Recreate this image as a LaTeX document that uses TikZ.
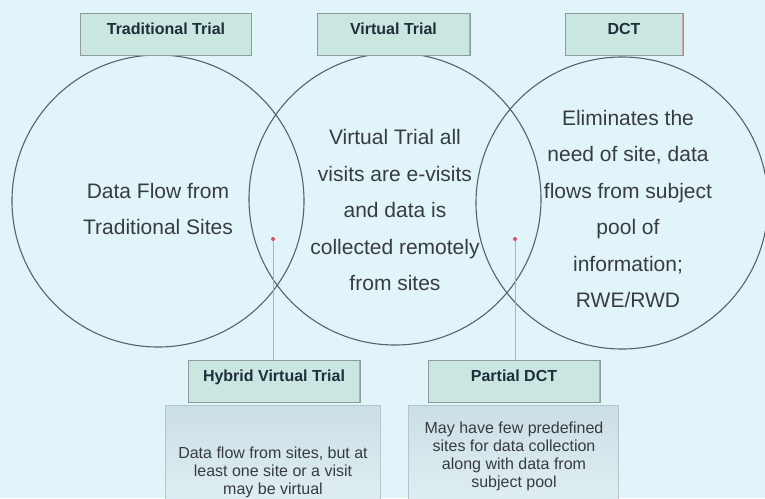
\documentclass[tikz,border=0pt]{standalone}
\usepackage{fontspec}
\setmainfont{Liberation Sans}
\definecolor{bgcyan}{HTML}{E1F4F9}
\definecolor{ringgray}{HTML}{55646A}
\definecolor{inkgray}{HTML}{383C3E}
\definecolor{tagmint}{HTML}{C9E6E1}
\definecolor{taggray}{HTML}{8E9B9B}
\definecolor{tagedge}{HTML}{C9A2A6}
\definecolor{tagink}{HTML}{1E2E3A}
\definecolor{notetop}{HTML}{CBDFE6}
\definecolor{notebot}{HTML}{E2F0F4}
\definecolor{notegray}{HTML}{B4C6CB}
\definecolor{dotred}{HTML}{D25470}
\definecolor{leadgray}{HTML}{B8AEB0}
\tikzset{
  venn/.style={circle, draw=ringgray, line width=1.1pt, minimum size=292pt, inner sep=0pt},
  bigtext/.style={align=center, text=inkgray, font=\fontsize{21}{36.5}\selectfont},
  tag/.style={draw=taggray, fill=tagmint, line width=0.9pt, inner xsep=0pt, inner ysep=5pt,
    text height=16pt, text depth=16pt, text=tagink, font=\fontsize{16}{18}\selectfont\bfseries,
    path picture={\draw[tagedge, line width=1.4pt] (path picture bounding box.north east) -- (path picture bounding box.south east);}},
  note/.style={draw=notegray, top color=notetop, bottom color=notebot, inner sep=0pt, minimum height=110pt},
  notetext/.style={align=center, text=inkgray, font=\fontsize{16}{18}\selectfont},
  reddot/.style={circle, fill=dotred, inner sep=0pt, minimum size=4pt},
  lead/.style={draw=leadgray, line width=0.7pt}
}
\begin{document}
\begin{tikzpicture}[x=1pt, y=-1pt]
  \useasboundingbox (0,0) rectangle (765,498);
  \clip (0,0) rectangle (765,498);
  \fill[bgcyan] (0,0) rectangle (765,498);

  % the three trial types
  \node[venn] (tradring) at (158,201) {};
  \node[venn] (virtring) at (395,199) {};
  \node[venn] (dctring) at (622,203) {};

  \node[bigtext] (tradtxt) at (158,209) {Data Flow from\\Traditional Sites};
  \node[bigtext] (virttxt) at (395,210) {Virtual Trial all\\visits are e-visits\\and data is\\collected remotely\\from sites};
  \node[bigtext] (dcttxt) at (628,209) {Eliminates the\\need of site, data\\flows from subject\\pool of\\information;\\RWE/RWD};

  \node[tag, minimum width=171pt] (tradtag) at (166,34) {Traditional Trial};
  \node[tag, minimum width=153pt] (virttag) at (393.5,34) {Virtual Trial};
  \node[tag, minimum width=118pt] (dcttag) at (624,34) {DCT};

  % overlaps
  \node[tag, minimum width=172pt] (hybridtag) at (274,381) {Hybrid Virtual Trial};
  \node[tag, minimum width=172pt] (partialtag) at (514,381) {Partial DCT};

  \node[reddot] (hybriddot) at (273,239) {};
  \node[reddot] (partialdot) at (515,239) {};
  \draw[lead] (hybriddot) -- (hybriddot |- hybridtag.north);
  \draw[lead] (partialdot) -- (partialdot |- partialtag.north);

  \node[note, minimum width=215pt, anchor=north] (hybridnote) at (272.5,405) {};
  \node[note, minimum width=210pt, anchor=north] (partialnote) at (513,405) {};
  \node[notetext] (hybridtxt) at (273,472) {Data flow from sites, but at\\least one site or a visit\\may be virtual};
  \node[notetext] (partialtxt) at (514,456) {May have few predefined\\sites for data collection\\along with data from\\subject pool};
\end{tikzpicture}
\end{document}
